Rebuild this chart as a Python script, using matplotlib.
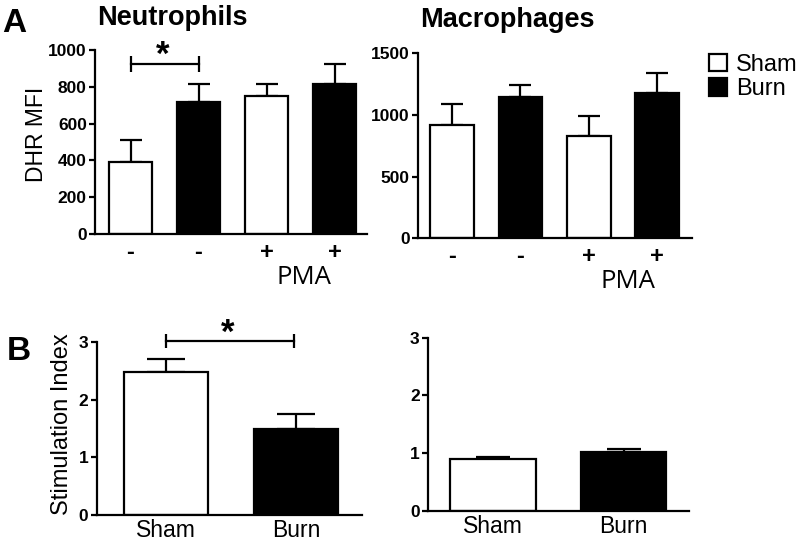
import matplotlib
matplotlib.use("Agg")
import matplotlib.pyplot as plt
from matplotlib.patches import Patch

plt.rcParams["font.family"] = ["Liberation Sans", "DejaVu Sans"]

# Panel A data (DHR MFI), bars: sham -, burn -, sham +, burn +
a_labels = ["-", "-", "+", "+"]
a_colors = ["white", "black", "white", "black"]
neut_mean = [391, 719, 748, 813]
neut_err = [120, 94, 69, 111]
mac_mean = [922, 1146, 830, 1181]
mac_err = [170, 100, 162, 162]

# Panel B data (Stimulation Index)
b_labels = ["Sham", "Burn"]
b_colors = ["white", "black"]
b_neut_mean = [2.48, 1.50]
b_neut_err = [0.22, 0.26]
b_mac_mean = [0.89, 1.02]
b_mac_err = [0.035, 0.05]

LW = 1.6


def style(ax, yticks, ylim, xlim):
    for s in ("top", "right"):
        ax.spines[s].set_visible(False)
    for s in ("left", "bottom"):
        ax.spines[s].set_linewidth(LW)
    ax.set_ylim(*ylim)
    ax.set_xlim(*xlim)
    ax.set_yticks(yticks)
    ax.tick_params(axis="y", direction="out", length=4, width=LW, pad=2,
                   labelsize=12.5)
    ax.tick_params(axis="x", length=0)
    for t in ax.get_yticklabels():
        t.set_fontweight("bold")


def bars(ax, means, errs, colors, width, capsize):
    x = list(range(len(means)))
    ax.bar(x, means, width=width, color=colors, edgecolor="black",
           linewidth=LW, zorder=2)
    ax.errorbar(x, means, yerr=[[0] * len(errs), errs], fmt="none",
                ecolor="black", elinewidth=LW, capsize=capsize,
                capthick=LW, zorder=1)
    return x


def bracket(ax, x0, x1, y, tick=11):
    ax.plot([x0, x1], [y, y], color="black", lw=LW, clip_on=False)
    ax.plot([x0, x1], [y, y], ls="none", marker="|", ms=tick, mew=LW,
            color="black", clip_on=False)


fig = plt.figure(figsize=(8.0, 5.45), dpi=100, facecolor="white")

# ---- A: Neutrophils
ax1 = fig.add_axes([0.119, 0.5706, 0.340, 0.3376])
x = bars(ax1, neut_mean, neut_err, a_colors, 0.64, 8)
style(ax1, range(0, 1001, 200), (0, 1000), (-0.52, 3.48))
ax1.set_xticks(x)
ax1.set_xticklabels(a_labels, fontsize=17, fontweight="bold")
ax1.tick_params(axis="x", pad=5)
ax1.set_ylabel("DHR MFI", fontsize=16.5)
ax1.yaxis.set_label_coords(-0.175, 0.54)
bracket(ax1, 0, 1, 924)
fig.text(163 / 800, 1 - 55 / 545, "*", fontsize=25, fontweight="bold",
         ha="center", va="center")

# ---- A: Macrophages
ax2 = fig.add_axes([0.5225, 0.5627, 0.3425, 0.3395])
x = bars(ax2, mac_mean, mac_err, a_colors, 0.64, 8)
style(ax2, [0, 500, 1000, 1500], (0, 1500), (-0.5, 3.51))
ax2.set_xticks(x)
ax2.set_xticklabels(a_labels, fontsize=17, fontweight="bold")
ax2.tick_params(axis="x", pad=5)

fig.legend(handles=[Patch(facecolor="white", edgecolor="black", linewidth=LW,
                          label="Sham"),
                    Patch(facecolor="black", edgecolor="black", linewidth=LW,
                          label="Burn")],
           loc="upper left", bbox_to_anchor=(709 / 800, 1 - 54 / 545),
           frameon=False, fontsize=17, handlelength=0.75, handleheight=0.75,
           handletextpad=0.4, labelspacing=0.1, borderpad=0,
           borderaxespad=0)

fig.text(2 / 800, 1 - 24 / 545, "A", fontsize=24, fontweight="bold",
         ha="left", va="center")
fig.text(97 / 800, 1 - 18 / 545, "Neutrophils", fontsize=19.5,
         fontweight="bold", ha="left", va="center")
fig.text(420 / 800, 1 - 20 / 545, "Macrophages", fontsize=19.5,
         fontweight="bold", ha="left", va="center")
fig.text(304 / 800, 1 - 277 / 545, "PMA", fontsize=18.5, family="Open Sans",
         ha="center", va="center")
fig.text(628 / 800, 1 - 282 / 545, "PMA", fontsize=18.5, family="Open Sans",
         ha="center", va="center")

# ---- B: Neutrophils stimulation index
ax3 = fig.add_axes([0.121, 0.055, 0.331, 0.3175])
x = bars(ax3, b_neut_mean, b_neut_err, b_colors, 0.644, 14)
style(ax3, [0, 1, 2, 3], (0, 3), (-0.53, 1.50))
ax3.set_xticks(x)
ax3.set_xticklabels(b_labels, fontsize=16.5)
ax3.tick_params(axis="x", pad=3)
ax3.set_ylabel("Stimulation Index", fontsize=17)
ax3.yaxis.set_label_coords(-0.09, 0.523)
bracket(ax3, 0, 0.98, 3.02, tick=10)
fig.text(228 / 800, 1 - 333 / 545, "*", fontsize=25, fontweight="bold",
         ha="center", va="center")

# ---- B: Macrophages stimulation index
ax4 = fig.add_axes([0.535, 0.063, 0.326, 0.317])
x = bars(ax4, b_mac_mean, b_mac_err, b_colors, 0.655, 12)
style(ax4, [0, 1, 2, 3], (0, 3), (-0.5, 1.5))
ax4.set_xticks(x)
ax4.set_xticklabels(b_labels, fontsize=16.5)
ax4.tick_params(axis="x", pad=3)

fig.text(7 / 800, 1 - 352 / 545, "B", fontsize=24, fontweight="bold",
         ha="left", va="center")

fig.savefig("out.png", dpi=100, facecolor="white")
